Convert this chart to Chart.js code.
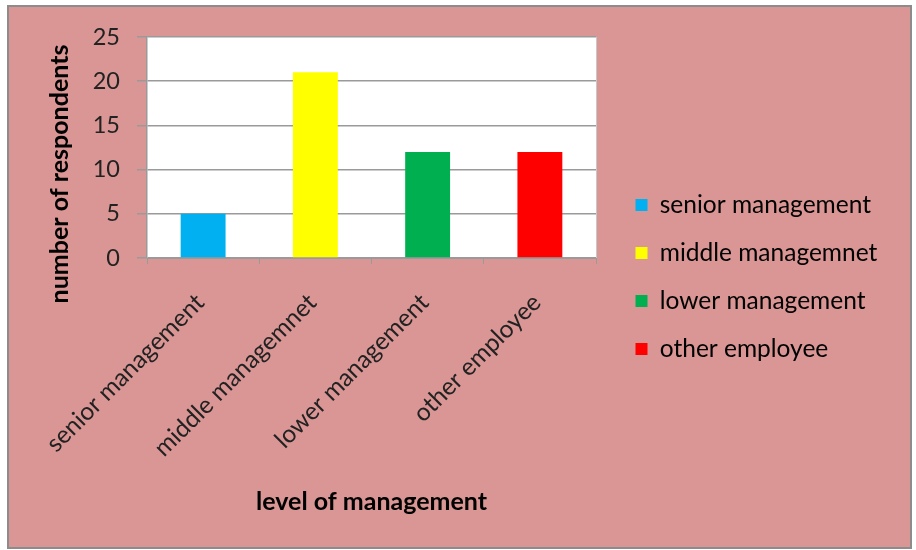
<!DOCTYPE html>
<html>
<head>
<meta charset="utf-8">
<script src="https://cdn.jsdelivr.net/npm/chart.js@4.4.0/dist/chart.umd.min.js"></script>
<style>
html, body { margin:0; padding:0; background:#fff; }
#wrap { width:916px; height:550px; }
</style>
</head>
<body>
<div id="wrap"><canvas id="barChartCanvas" width="916" height="550"></canvas></div>
<script>
const categories = ['senior management', 'middle managemnet', 'lower management', 'other employee'];
const respondents = [5, 21, 12, 12];
const barColors = ['#00B0F0', '#FFFF00', '#00B050', '#FF0000'];
const yTicks = [0, 5, 10, 15, 20, 25];

const FONT = 'Lato';
const SIZE = 24.5;
const labelFont = {family:FONT, size:SIZE};
const tickFont = {family:FONT, size:23.5};
const titleFont = {family:FONT, size:25, weight:'bold'};
const LEG_PAD = 48 - SIZE;

// legend has to sit at x=612 so its boxes start where the reference ones do
let mctx = document.createElement('canvas').getContext('2d');
mctx.font = SIZE + 'px ' + FONT;
let longest = Math.max(...categories.map(c => mctx.measureText(c).width));
let legendWidth = LEG_PAD + 12 + SIZE / 2 + longest + 10;
let rightPad = Math.max(0, 916 - 612 - legendWidth);

let framePlugin = {
    id:'frame',
    beforeDraw(chart){
        let ctx = chart.ctx, a = chart.chartArea;
        ctx.save();
        ctx.fillStyle = '#fff';
        ctx.fillRect(0, 0, chart.width, chart.height);
        ctx.fillStyle = '#D99694';
        ctx.fillRect(7, 5, 905, 544);
        ctx.strokeStyle = '#8c8c8c';
        ctx.lineWidth = 2;
        ctx.strokeRect(8, 6, 903, 542);
        ctx.fillStyle = '#fff';
        ctx.fillRect(a.left, a.top, a.right - a.left, a.bottom - a.top);
        ctx.strokeStyle = '#c8c8c8';
        ctx.lineWidth = 1;
        ctx.beginPath();
        ctx.moveTo(a.right + 0.5, a.top);
        ctx.lineTo(a.right + 0.5, a.bottom);
        ctx.stroke();
        ctx.restore();
    },
    afterDraw(chart){
        // y title sits lower than the plot centre in the original
        let ctx = chart.ctx;
        ctx.save();
        ctx.fillStyle = '#000';
        ctx.font = 'bold 25px ' + FONT;
        ctx.textAlign = 'center';
        ctx.textBaseline = 'middle';
        ctx.translate(60, 174);
        ctx.rotate(-Math.PI / 2);
        ctx.fillText('number of respondents', 0, 0);
        ctx.restore();
    }
};

let barCtx = document.getElementById('barChartCanvas').getContext('2d');

let barChart = new Chart(barCtx, {
    type:'bar',
    data:{
        labels:categories,
        datasets:[{
            label:'number of respondents',
            data:respondents,
            backgroundColor:barColors,
            borderWidth:0,
            barPercentage:0.8,
            categoryPercentage:0.5
        }]
    },
    options:{
        responsive:false,
        animation:false,
        layout:{
            padding:{top:37, left:0, bottom:33, right:rightPad}
        },
        scales:{
            x:{
                afterFit(s){ s.height = 259; },
                ticks:{
                    color:'#222',
                    font:labelFont,
                    minRotation:45,
                    maxRotation:45,
                    autoSkip:false,
                    padding:24,
                    labelOffset:-3
                },
                grid:{
                    drawOnChartArea:false,
                    offset:true,
                    tickLength:6,
                    color:'#9a9a9a'
                },
                border:{color:'#9a9a9a'},
                title:{
                    display:true,
                    text:'level of management',
                    color:'#000',
                    font:titleFont,
                    padding:{top:0, bottom:0}
                }
            },
            y:{
                min:0,
                max:25,
                afterFit(s){ s.width = 147; },
                afterBuildTicks(s){ s.ticks = yTicks.map(v => ({value:v})); },
                ticks:{
                    color:'#222',
                    font:tickFont,
                    padding:17
                },
                grid:{
                    color:'#9a9a9a',
                    lineWidth:1.5,
                    tickLength:10
                },
                border:{color:'#9a9a9a', width:1.5}
            },
            y2:{
                position:'right',
                afterFit(s){ s.width = 16; },
                ticks:{display:false},
                grid:{display:false},
                border:{display:false}
            }
        },
        plugins:{
            tooltip:{enabled:false},
            legend:{
                position:'right',
                maxWidth:400,
                onClick:null,
                labels:{
                    color:'#222',
                    font:labelFont,
                    boxWidth:12,
                    boxHeight:12,
                    padding:LEG_PAD,
                    generateLabels(){
                        return categories.map((c, i) => ({
                            text:c,
                            fillStyle:barColors[i],
                            strokeStyle:barColors[i],
                            lineWidth:0,
                            hidden:false,
                            index:i
                        }));
                    }
                }
            }
        }
    },
    plugins:[framePlugin]
});
</script>
</body>
</html>
